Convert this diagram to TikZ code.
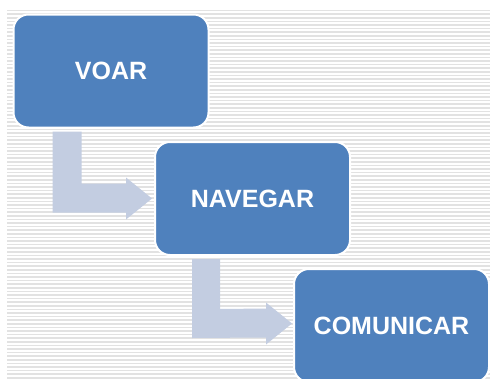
\documentclass[tikz,border=0pt]{standalone}
\usepackage{fontspec}
\setmainfont{Liberation Sans}
\usetikzlibrary{calc,backgrounds}
\definecolor{boxblue}{HTML}{4F81BD}
\definecolor{arrowblue}{HTML}{C3CDE1}
\definecolor{stripe}{HTML}{E2E2E2}
\tikzset{
  stepbox/.style={draw=white, line width=2pt, fill=boxblue, rounded corners=15pt,
    minimum width=195pt, minimum height=113pt, inner sep=0pt,
    text=white, font=\bfseries\fontsize{25}{30}\selectfont},
  bentarrow/.style={fill=arrowblue, draw=none},
  stripeline/.style={draw=stripe, line width=1.6pt}
}
\begin{document}
\begin{tikzpicture}[x=1pt,y=-1pt]
\useasboundingbox (0,0) rectangle (490,378);
\node[stepbox] (voar) at (111,71) {VOAR};
\node[stepbox] (nav) at (252.5,198.5) {NAVEGAR};
\node[stepbox] (com) at (391.5,325.5) {COMUNICAR};
\begin{scope}[on background layer]
  \clip (0,0) rectangle (490,378);
  \foreach \i in {0,...,103} {
    \draw[stripeline] (7,{10.5+3.6*\i}) -- (490,{10.5+3.6*\i});
  }
  % arrow VOAR -> NAVEGAR
  \path[bentarrow]
    ($(voar.south west)+(40,3)$) -- ($(voar.south west)+(69,3)$)
    -- ($(voar.south west)+(69,55)$) -- ($(nav.west)+(-28,-15)$)
    -- ($(nav.west)+(-28,-21)$) -- ($(nav.west)+(-2,0)$)
    -- ($(nav.west)+(-28,21)$) -- ($(nav.west)+(-28,14)$)
    -- ($(voar.south west)+(40,84)$) -- cycle;
  % arrow NAVEGAR -> COMUNICAR
  \path[bentarrow]
    ($(nav.south west)+(38,3)$) -- ($(nav.south west)+(66,3)$)
    -- ($(nav.south west)+(66,53)$) -- ($(com.west)+(-27,-17)$)
    -- ($(com.west)+(-27,-23)$) -- ($(com.west)+(-1,-2)$)
    -- ($(com.west)+(-27,19)$) -- ($(com.west)+(-27,12)$)
    -- ($(nav.south west)+(38,82)$) -- cycle;
\end{scope}
\end{tikzpicture}
\end{document}
